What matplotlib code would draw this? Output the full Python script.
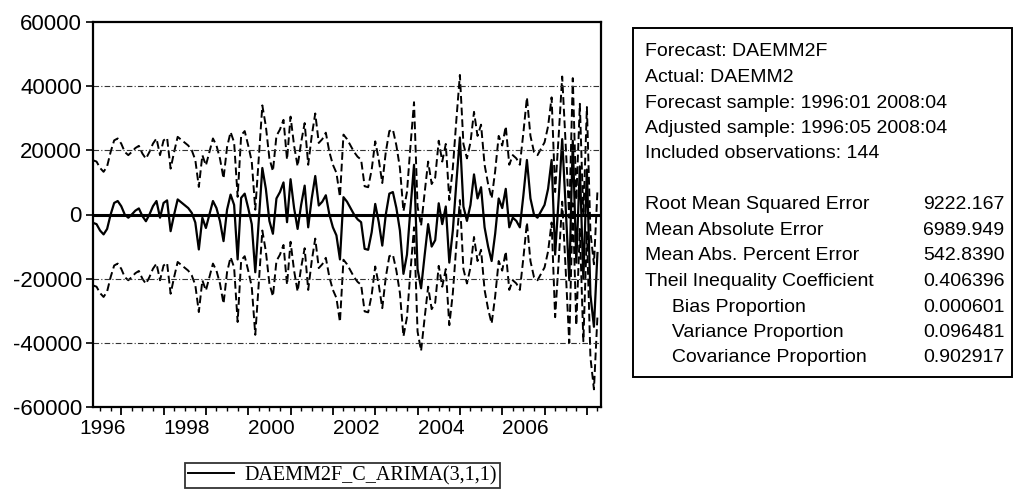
import numpy as np
import matplotlib
matplotlib.use('Agg')
import matplotlib.pyplot as plt
from matplotlib.lines import Line2D
from matplotlib.patches import Rectangle
import matplotlib.transforms as mtransforms

# monthly forecast, 1996:05 .. 2008:04 (144 obs)
forecast = [-2600, -3000, -5000, -6200, -4500, 0, 3600, 4200, 2600, 0,
            -1000, 0, 1200, 1900, -500, -2100, 0, 2600, 4200, -1000,
            3600, 4400, -5200, 0, 4700, 3800, 2900, 2000, 500, -2500,
            -10900, -1000, -4200, 0, 4200, 2000, -2100, -8300, 1500, 6200,
            3000, -14000, 5200, 6500, 2000, -3000, -18000, -2000, 14500, 8000,
            -2000, -6000, 5000, 7000, 10000, -2400, 11000, 2000, -4500, 3000,
            9000, -4000, 5000, 12000, 2800, 4000, 6000, 0, -4000, -6500,
            -14000, 5400, 4000, 2000, 0, -1500, -2400, -10700, -11000, -5500,
            3300, -2400, -9700, 0, 6500, 7000, 2000, -5000, -18500, -12500,
            2000, 15500, -17000, -23000, -12800, -3000, -10000, -8000, 3500, -3000,
            2500, -15000, -5000, 10000, 24000, 2500, -2000, 3000, 12500, 5000,
            8500, -4000, -10000, -14500, -6000, 5000, 2000, 8000, -4000, -1000,
            -2000, -4000, 6000, 17000, 5000, 0, -1000, 1000, 3000, 8000,
            17000, -12500, 5000, 23500, 2000, -20500, 23000, -15000, 15000, -20000,
            14000, -25000, -35000, -12000]
se2 = 19500  # +/- 2 S.E. band half width

start_year, start_month = 1996, 5
t = [start_year + (start_month - 1 + i) / 12 for i in range(len(forecast))]
upper = [f + se2 for f in forecast]
lower = [f - se2 for f in forecast]

stat_names = ['Root Mean Squared Error', 'Mean Absolute Error', 'Mean Abs. Percent Error',
              'Theil Inequality Coefficient', '     Bias Proportion',
              '     Variance Proportion', '     Covariance Proportion']
stat_values = ['9222.167', '6989.949', '542.8390', '0.406396', '0.000601', '0.096481', '0.902917']
header = ['Forecast: DAEMM2F', 'Actual: DAEMM2', 'Forecast sample: 1996:01 2008:04',
          'Adjusted sample: 1996:05 2008:04', 'Included observations: 144']
year_labels = [1996, 1998, 2000, 2002, 2004, 2006]

W, H = 1015, 501
plt.rcParams['font.family'] = ['Liberation Sans', 'DejaVu Sans']
plt.rcParams['axes.unicode_minus'] = False
fig = plt.figure(figsize=(W / 100, H / 100), dpi=100)

ax = fig.add_axes([93 / W, 1 - 407 / H, (601 - 93) / W, (407 - 22) / H])
ax.plot(t, upper, color='black', lw=1.4, ls=(0, (4, 2)))
ax.plot(t, lower, color='black', lw=1.4, ls=(0, (4, 2)))
ax.plot(t, forecast, color='black', lw=1.6)
for g in [-40000, -20000, 20000, 40000]:
    ax.axhline(g, color='0.2', lw=0.8, ls=(0, (5, 2, 1, 2)))
ax.axhline(0, color='black', lw=2.2)

ax.set_xlim(t[0], t[-1] + 1 / 12)
ax.set_ylim(-60000, 60000)
ax.set_yticks(range(-60000, 60001, 20000))
ax.tick_params(axis='y', direction='out', length=5, width=1.2, labelsize=16, pad=3)
ax.set_xticks(range(1997, 2009))
ax.set_xticks(np.arange(1996.5, 2008.3, 0.25), minor=True)
ax.set_xticklabels([])
ax.tick_params(axis='x', which='major', direction='out', length=6, width=1.3)
ax.tick_params(axis='x', which='minor', direction='out', length=3, width=1)
for s in ax.spines.values():
    s.set_linewidth(1.6)

trans = mtransforms.blended_transform_factory(ax.transData, ax.transAxes)
for yr in year_labels:
    ax.text(yr, -0.032, str(yr), transform=trans, ha='left', va='top', fontsize=15, clip_on=False)

# statistics box
box_l, box_r, box_t, box_b = 633, 1012, 28, 377
fig.patches.append(Rectangle((box_l / W, 1 - box_b / H), (box_r - box_l) / W, (box_b - box_t) / H,
                             transform=fig.transFigure, fill=False, ec='black', lw=1.4))
y = 52
for line in header:
    fig.text(645 / W, 1 - y / H, line, fontsize=14, va='center')
    y += 25.5
y += 25.5
for name, val in zip(stat_names, stat_values):
    fig.text(645 / W, 1 - y / H, name, fontsize=14, va='center')
    fig.text(923 / W, 1 - y / H, val, fontsize=14, va='center')
    y += 25.5

h = [Line2D([], [], color='black', lw=1.4)]
leg = fig.legend(h, ['DAEMM2F_C_ARIMA(3,1,1)'], loc='upper left',
                 bbox_to_anchor=(185 / W, 1 - 463 / H), borderaxespad=0, frameon=True,
                 fancybox=False, edgecolor='black', handlelength=2.3, handletextpad=0.5,
                 borderpad=0.15, prop={'family': 'Liberation Serif', 'size': 14.5})
leg.get_frame().set_linewidth(1.3)

fig.savefig('out.png', dpi=100)
